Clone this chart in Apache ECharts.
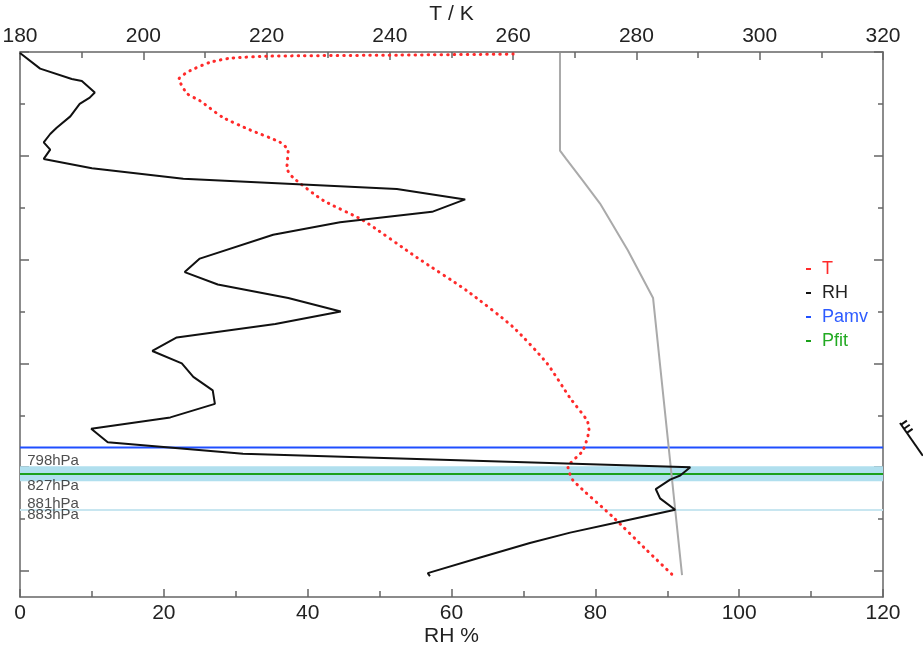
<!DOCTYPE html>
<html><head><meta charset="utf-8">
<script src="https://cdn.jsdelivr.net/npm/echarts@6/dist/echarts.min.js"></script>
<style>html,body{margin:0;padding:0;background:#fff}#c{width:923px;height:654px}</style>
</head><body><div id="c"></div>
<script>
// RH profile (bottom axis, %) vs level (vertical coordinate, arbitrary units)
const rhPct = [0.0, 2.8, 7.2, 8.6, 10.4, 9.7, 8.3, 7.0, 5.1, 4.2, 3.3, 4.2, 3.3, 10.0, 22.7, 52.4, 61.9, 57.3, 44.5, 35.2, 25.0, 22.9, 27.5, 37.3, 44.6, 35.5, 21.8, 18.4, 22.5, 24.1, 26.8, 27.1, 20.9, 9.9, 12.2, 31.0, 93.2, 91.8, 90.4, 88.4, 89.0, 91.1, 82.5, 76.5, 70.9, 64.0, 56.7, 57.0];
const rhLevel = [4.99, 4.84, 4.74, 4.72, 4.61, 4.56, 4.50, 4.38, 4.27, 4.21, 4.13, 4.06, 3.97, 3.88, 3.78, 3.68, 3.58, 3.46, 3.36, 3.24, 3.01, 2.88, 2.76, 2.63, 2.50, 2.38, 2.25, 2.12, 2.00, 1.87, 1.74, 1.61, 1.48, 1.37, 1.24, 1.13, 1.00, 0.92, 0.88, 0.79, 0.70, 0.59, 0.46, 0.37, 0.27, 0.13, -0.02, -0.05];
// Temperature profile (top axis, K)
const tempK = [260.0, 241.6, 220.6, 214.1, 210.8, 207.6, 205.8, 207.1, 209.2, 212.9, 217.3, 222.2, 223.5, 223.3, 224.3, 229.2, 235.6, 244.4, 252.5, 260.0, 265.5, 269.2, 272.0, 272.3, 271.3, 268.9, 269.7, 276.2, 281.7, 285.9];
const tempLevel = [4.98, 4.97, 4.96, 4.94, 4.90, 4.82, 4.74, 4.60, 4.53, 4.37, 4.25, 4.13, 4.05, 3.88, 3.79, 3.57, 3.38, 3.02, 2.70, 2.35, 2.00, 1.67, 1.45, 1.36, 1.16, 1.00, 0.875, 0.52, 0.20, -0.04];
// Grey profile (top axis, K)
const greyK = [267.6, 267.6, 268.6, 271.3, 274.1, 278.6, 282.7, 287.4];
const greyLevel = [4.99, 4.05, 3.97, 3.76, 3.54, 3.09, 2.63, -0.04];
// Horizontal levels
const pamvLevel = 1.19;
const pfitLevel = 0.935;
const pfitBand = [0.865, 1.01];
const extraLevel = 0.587;
// Pressure labels
const pLabels = ['798hPa', '827hPa', '881hPa', '883hPa'];
const pLabelLevel = [1.06, 0.82, 0.65, 0.54];
// Wind barb level
const windLevel = [1.33];
// Axis ranges
const rhRange = [0, 120];
const tRange = [180, 320];
const levelRange = [-0.25, 5];
const majorLevels = [0, 1, 2, 3, 4, 5];
const minorLevels = [0.5, 1.5, 2.5, 3.5, 4.5];

const FONT = 'Liberation Sans';
const axisColor = '#666';
const zip = (a, b) => a.map((v, i) => [v, b[i]]);

const chart = echarts.init(document.getElementById('c'));
const yBase = (pos, vals, len, showLine) => ({
  type: 'value', position: pos, min: levelRange[0], max: levelRange[1],
  axisLine: { show: showLine, onZero: false, lineStyle: { color: axisColor, width: 1.5 } },
  axisTick: { show: true, inside: true, length: len, customValues: vals, lineStyle: { color: axisColor, width: 1.5 } },
  axisLabel: { show: false }, splitLine: { show: false }
});
const xBase = (pos, range, name, gap, margin) => ({
  type: 'value', position: pos, min: range[0], max: range[1], interval: 20,
  name: name, nameLocation: 'middle', nameGap: gap, nameMoveOverlap: false,
  nameTextStyle: { fontFamily: FONT, fontSize: 21, color: '#222' },
  axisLine: { show: true, onZero: false, lineStyle: { color: axisColor, width: 1.5 } },
  axisTick: { show: true, inside: true, length: 8, lineStyle: { color: axisColor, width: 1.5 } },
  minorTick: { show: true, splitNumber: 2, length: 6, lineStyle: { color: axisColor, width: 1.5 } },
  axisLabel: { fontFamily: FONT, fontSize: 21, color: '#222', margin: margin, hideOverlap: false },
  splitLine: { show: false }, minorSplitLine: { show: false }
});

chart.setOption({
  animation: false,
  backgroundColor: '#fff',
  grid: { left: 20, right: 40, top: 52, bottom: 57, containLabel: false, outerBoundsMode: 'none' },
  xAxis: [xBase('bottom', rhRange, 'RH %', 29, 6), xBase('top', tRange, 'T / K', 27, 5)],
  yAxis: [yBase('left', majorLevels, 9, true), yBase('right', majorLevels, 9, true),
          yBase('left', minorLevels, 5, false), yBase('right', minorLevels, 5, false)],
  legend: {
    orient: 'vertical', left: 801, top: 255, itemGap: 6,
    itemWidth: 5, itemHeight: 2, icon: 'rect',
    textStyle: { fontFamily: FONT, fontSize: 18, lineHeight: 18, padding: [0, 0, 0, 6] },
    data: [
      { name: 'T', textStyle: { color: '#ff2a2a' } },
      { name: 'RH', textStyle: { color: '#222' } },
      { name: 'Pamv', textStyle: { color: '#2d5bff' } },
      { name: 'Pfit', textStyle: { color: '#22aa22' } }
    ]
  },
  series: [
    { name: 'Pfit', type: 'line', xAxisIndex: 0, yAxisIndex: 0, color: '#1aa01a', showSymbol: false, silent: true,
      lineStyle: { width: 2 }, data: zip(rhRange, [pfitLevel, pfitLevel]), z: 3,
      markArea: { silent: true, itemStyle: { color: '#b0dfee' }, data: [[{ yAxis: pfitBand[0] }, { yAxis: pfitBand[1] }]] } },
    { name: 'Pmax', type: 'line', xAxisIndex: 0, yAxisIndex: 0, color: '#c8e6f0', showSymbol: false, silent: true,
      lineStyle: { width: 2 }, data: zip(rhRange, [extraLevel, extraLevel]), z: 2 },
    { name: 'Pamv', type: 'line', xAxisIndex: 0, yAxisIndex: 0, color: '#1f4fff', showSymbol: false, silent: true,
      lineStyle: { width: 2 }, data: zip(rhRange, [pamvLevel, pamvLevel]), z: 3 },
    { name: 'Tgrey', type: 'line', xAxisIndex: 1, yAxisIndex: 0, color: '#aaaaaa', showSymbol: false,
      lineStyle: { width: 2 }, data: zip(greyK, greyLevel), z: 4 },
    { name: 'T', type: 'line', xAxisIndex: 1, yAxisIndex: 0, color: '#ff2a2a', showSymbol: false, smooth: 0.2,
      lineStyle: { width: 3, type: [0.5, 6], cap: 'round' }, data: zip(tempK, tempLevel), z: 5 },
    { name: 'RH', type: 'line', xAxisIndex: 0, yAxisIndex: 0, color: '#111', showSymbol: false,
      lineStyle: { width: 2 }, data: zip(rhPct, rhLevel), z: 6 },
    { name: 'labels', type: 'scatter', xAxisIndex: 0, yAxisIndex: 0, symbolSize: 0, silent: true,
      data: pLabelLevel.map((l, i) => ({ value: [1, l], label: { formatter: pLabels[i] } })),
      label: { show: true, position: 'right', distance: 0, fontFamily: FONT, fontSize: 15, color: '#222' }, z: 7 },
    { name: 'wind', type: 'custom', xAxisIndex: 0, yAxisIndex: 0, clip: false, silent: true,
      data: windLevel.map(l => [rhRange[1], l]),
      renderItem: (params, api) => {
        const p = api.coord([api.value(0), api.value(1)]);
        const x0 = p[0] + 17, y0 = p[1] - 10;
        const dx = 0.57, dy = 0.82; // staff direction
        const L = 40;
        const children = [{ type: 'line', shape: { x1: x0, y1: y0, x2: x0 + dx * L, y2: y0 + dy * L }, style: { stroke: '#111', lineWidth: 2 } }];
        for (let k = 0; k < 3; k++) {
          const sx = x0 + dx * (2 + k * 5), sy = y0 + dy * (2 + k * 5);
          children.push({ type: 'line', shape: { x1: sx, y1: sy, x2: sx + dy * 7, y2: sy - dx * 7 }, style: { stroke: '#111', lineWidth: 2 } });
        }
        return { type: 'group', children };
      } }
  ]
});
</script></body></html>
